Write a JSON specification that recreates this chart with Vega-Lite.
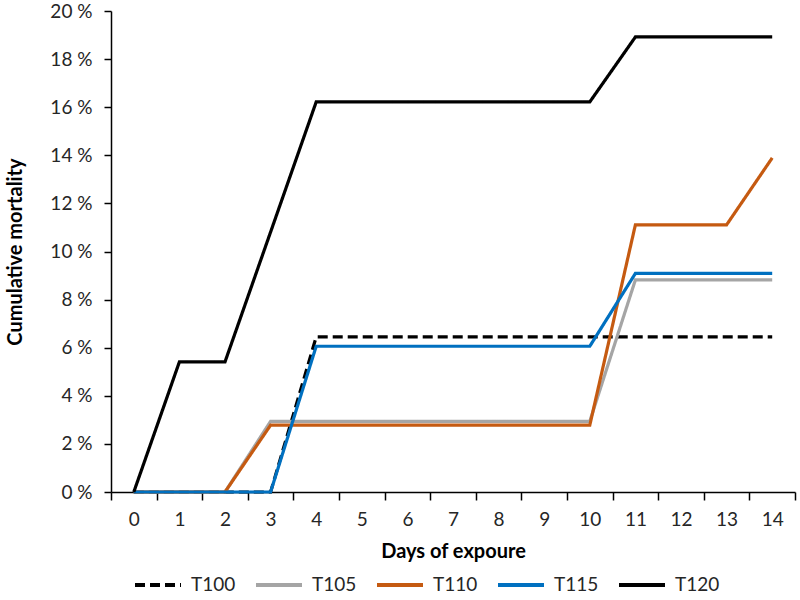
{
  "$schema": "https://vega.github.io/schema/vega-lite/v6.json",
  "width": 684,
  "height": 481,
  "autosize": {"type": "none"},
  "padding": {"left": 111, "top": 11, "right": 5, "bottom": 108},
  "background": "white",
  "config": {"view": {"stroke": null}, "font": "Lato"},
  "data": {"values": [
    {"series": "T100", "day": 0, "mortality": 0}, {"series": "T100", "day": 1, "mortality": 0}, {"series": "T100", "day": 2, "mortality": 0}, {"series": "T100", "day": 3, "mortality": 0}, {"series": "T100", "day": 4, "mortality": 6.45}, {"series": "T100", "day": 5, "mortality": 6.45}, {"series": "T100", "day": 6, "mortality": 6.45}, {"series": "T100", "day": 7, "mortality": 6.45}, {"series": "T100", "day": 8, "mortality": 6.45}, {"series": "T100", "day": 9, "mortality": 6.45}, {"series": "T100", "day": 10, "mortality": 6.45}, {"series": "T100", "day": 11, "mortality": 6.45}, {"series": "T100", "day": 12, "mortality": 6.45}, {"series": "T100", "day": 13, "mortality": 6.45}, {"series": "T100", "day": 14, "mortality": 6.45},
    {"series": "T105", "day": 0, "mortality": 0}, {"series": "T105", "day": 1, "mortality": 0}, {"series": "T105", "day": 2, "mortality": 0}, {"series": "T105", "day": 3, "mortality": 2.94}, {"series": "T105", "day": 4, "mortality": 2.94}, {"series": "T105", "day": 5, "mortality": 2.94}, {"series": "T105", "day": 6, "mortality": 2.94}, {"series": "T105", "day": 7, "mortality": 2.94}, {"series": "T105", "day": 8, "mortality": 2.94}, {"series": "T105", "day": 9, "mortality": 2.94}, {"series": "T105", "day": 10, "mortality": 2.94}, {"series": "T105", "day": 11, "mortality": 8.82}, {"series": "T105", "day": 12, "mortality": 8.82}, {"series": "T105", "day": 13, "mortality": 8.82}, {"series": "T105", "day": 14, "mortality": 8.82},
    {"series": "T110", "day": 0, "mortality": 0}, {"series": "T110", "day": 1, "mortality": 0}, {"series": "T110", "day": 2, "mortality": 0}, {"series": "T110", "day": 3, "mortality": 2.78}, {"series": "T110", "day": 4, "mortality": 2.78}, {"series": "T110", "day": 5, "mortality": 2.78}, {"series": "T110", "day": 6, "mortality": 2.78}, {"series": "T110", "day": 7, "mortality": 2.78}, {"series": "T110", "day": 8, "mortality": 2.78}, {"series": "T110", "day": 9, "mortality": 2.78}, {"series": "T110", "day": 10, "mortality": 2.78}, {"series": "T110", "day": 11, "mortality": 11.11}, {"series": "T110", "day": 12, "mortality": 11.11}, {"series": "T110", "day": 13, "mortality": 11.11}, {"series": "T110", "day": 14, "mortality": 13.89},
    {"series": "T115", "day": 0, "mortality": 0}, {"series": "T115", "day": 1, "mortality": 0}, {"series": "T115", "day": 2, "mortality": 0}, {"series": "T115", "day": 3, "mortality": 0}, {"series": "T115", "day": 4, "mortality": 6.06}, {"series": "T115", "day": 5, "mortality": 6.06}, {"series": "T115", "day": 6, "mortality": 6.06}, {"series": "T115", "day": 7, "mortality": 6.06}, {"series": "T115", "day": 8, "mortality": 6.06}, {"series": "T115", "day": 9, "mortality": 6.06}, {"series": "T115", "day": 10, "mortality": 6.06}, {"series": "T115", "day": 11, "mortality": 9.09}, {"series": "T115", "day": 12, "mortality": 9.09}, {"series": "T115", "day": 13, "mortality": 9.09}, {"series": "T115", "day": 14, "mortality": 9.09},
    {"series": "T120", "day": 0, "mortality": 0}, {"series": "T120", "day": 1, "mortality": 5.41}, {"series": "T120", "day": 2, "mortality": 5.41}, {"series": "T120", "day": 3, "mortality": 10.81}, {"series": "T120", "day": 4, "mortality": 16.22}, {"series": "T120", "day": 5, "mortality": 16.22}, {"series": "T120", "day": 6, "mortality": 16.22}, {"series": "T120", "day": 7, "mortality": 16.22}, {"series": "T120", "day": 8, "mortality": 16.22}, {"series": "T120", "day": 9, "mortality": 16.22}, {"series": "T120", "day": 10, "mortality": 16.22}, {"series": "T120", "day": 11, "mortality": 18.92}, {"series": "T120", "day": 12, "mortality": 18.92}, {"series": "T120", "day": 13, "mortality": 18.92}, {"series": "T120", "day": 14, "mortality": 18.92}
  ]},
  "mark": {"type": "line", "strokeWidth": 3.2, "strokeCap": "butt", "strokeJoin": "miter"},
  "encoding": {
    "x": {
      "field": "day", "type": "ordinal",
      "scale": {"type": "band", "paddingInner": 0, "paddingOuter": 0},
      "axis": {
        "title": "Days of expoure", "titleFontWeight": "bold", "titleFontSize": 20, "titleColor": "#000000",
        "labelFontSize": 19, "labelColor": "#262626", "labelAngle": 0, "labelPadding": 10,
        "tickBand": "extent", "tickSize": 8, "tickColor": "#000000", "domainColor": "#000000", "domainWidth": 1.5, "tickWidth": 1.5,
        "titlePadding": 12, "grid": false
      }
    },
    "y": {
      "field": "mortality", "type": "quantitative",
      "scale": {"domain": [0, 20], "nice": false},
      "axis": {
        "title": "Cumulative mortality", "titleFontWeight": "bold", "titleFontSize": 20, "titleColor": "#000000",
        "titleX": -86,
        "values": [0, 2, 4, 6, 8, 10, 12, 14, 16, 18, 20],
        "labelExpr": "datum.value + ' %'",
        "labelFontSize": 19, "labelColor": "#262626", "labelPadding": 12,
        "tickSize": 7, "tickColor": "#000000", "domainColor": "#000000", "domainWidth": 1.5, "tickWidth": 1.5,
        "grid": false
      }
    },
    "color": {
      "field": "series", "type": "nominal",
      "scale": {"domain": ["T100", "T105", "T110", "T115", "T120"], "range": ["#000000", "#A5A5A5", "#C55A11", "#0070C0", "#000000"]},
      "legend": {
        "title": null, "orient": "none", "direction": "horizontal", "legendX": 22, "legendY": 549,
        "symbolType": "stroke", "symbolSize": 2116, "symbolStrokeWidth": 4,
        "labelFontSize": 19, "labelColor": "#262626", "labelOffset": 8, "columnPadding": 12, "gridAlign": "all"
      }
    },
    "strokeDash": {
      "field": "series", "type": "nominal",
      "scale": {"domain": ["T100", "T105", "T110", "T115", "T120"], "range": [[10, 5], [1, 0], [1, 0], [1, 0], [1, 0]]},
      "legend": {
        "title": null, "orient": "none", "direction": "horizontal", "legendX": 22, "legendY": 549,
        "symbolType": "stroke", "symbolSize": 2116, "symbolStrokeWidth": 4,
        "labelFontSize": 19, "labelColor": "#262626", "labelOffset": 8, "columnPadding": 12, "gridAlign": "all"
      }
    }
  }
}
